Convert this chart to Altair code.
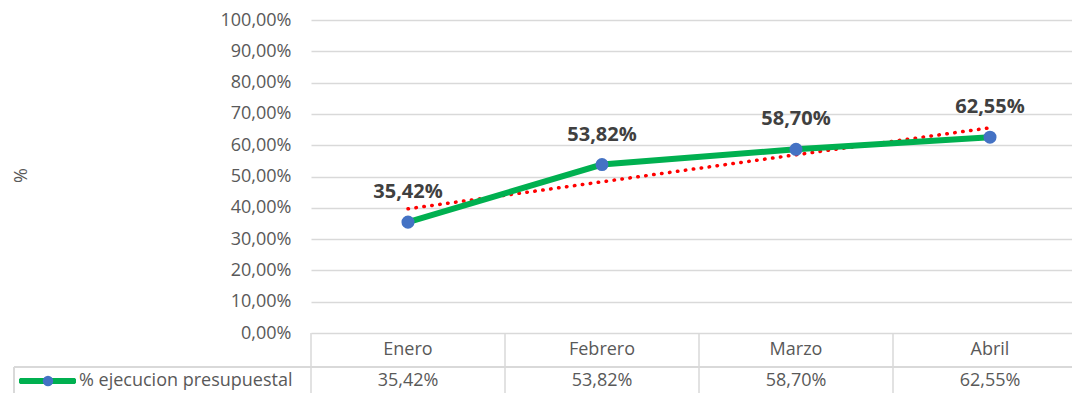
import altair as alt
import pandas as pd

months = ["Enero", "Febrero", "Marzo", "Abril"]
values = [35.42, 53.82, 58.70, 62.55]
series_name = "% ejecucion presupuestal"
y_ticks = [0, 10, 20, 30, 40, 50, 60, 70, 80, 90, 100]

df = pd.DataFrame({"month": months, "value": values})

FONT = "Open Sans"
GRID = "#d9d9d9"
TXT = "#595959"
W, H = 761, 313
X_MAX = 0.5 + W / 194.0  # band of 194 px per month; last band runs past the page edge

label_expr = "replace(format(datum.value, '.2f'), '.', ',') + '%'"

xscale = alt.Scale(domain=[0.5, X_MAX], nice=False, zero=False)
xenc = alt.X("idx:Q", scale=xscale, axis=None)
yenc = alt.Y(
    "value:Q",
    scale=alt.Scale(domain=[0, 100], nice=False),
    axis=alt.Axis(
        values=y_ticks, labelExpr=label_expr, labelFont=FONT, labelFontSize=18,
        labelColor=TXT, labelPadding=20, domain=False, ticks=False,
        grid=True, gridColor=GRID, gridWidth=1.5,
        title="%", titleFont=FONT, titleFontSize=18, titleColor=TXT,
        titleFontWeight="normal", titleX=-290, titleY=155, titleAngle=270,
        titleAlign="center", titleBaseline="middle",
    ),
)

base = (
    alt.Chart(df)
    .transform_window(idx="row_number()")
    .transform_calculate(label=label_expr, left="datum.idx - 0.5")
)

trend = (
    alt.Chart(df)
    .transform_window(idx="row_number()")
    .transform_regression("idx", "value", method="linear")
    .mark_line(color="#ff0000", strokeWidth=3.5, strokeDash=[0.5, 7.5], strokeCap="round")
    .encode(x=xenc, y=yenc)
)

line = base.mark_line(color="#00b050", strokeWidth=6).encode(x=xenc, y=yenc)
pts = base.mark_circle(color="#4472c4", opacity=1, size=170).encode(x=xenc, y=yenc)
labels = base.mark_text(
    font=FONT, fontSize=20, fontWeight="bold", color="#404040", dy=-20, baseline="bottom"
).encode(x=xenc, y=yenc, text="label:N")

# data table below the plot
row1 = base.mark_text(font=FONT, fontSize=18, color=TXT, baseline="middle").encode(
    x=xenc, y=alt.value(H + 17), text="month:N"
)
row2 = base.mark_text(font=FONT, fontSize=18, color=TXT, baseline="middle").encode(
    x=xenc, y=alt.value(H + 48), text="label:N"
)
vlines = base.mark_rule(color=GRID, strokeWidth=1.5).encode(
    x=alt.X("left:Q", scale=xscale, axis=None),
    y=alt.value(H), y2=alt.value(H + 75),
)
hline = alt.Chart(df).mark_rule(color=GRID, strokeWidth=1.5).encode(
    x=alt.value(-297), x2=alt.value(W), y=alt.value(H + 34)
)
vleft = alt.Chart(df).mark_rule(color=GRID, strokeWidth=1.5).encode(
    x=alt.value(-297), y=alt.value(H + 34), y2=alt.value(H + 75)
)
leg_line = alt.Chart(df).mark_rule(color="#00b050", strokeWidth=6, strokeCap="round").encode(
    x=alt.value(-289), x2=alt.value(-238), y=alt.value(H + 48)
)
leg_pt = alt.Chart(pd.DataFrame({"s": [series_name]})).mark_circle(
    color="#4472c4", opacity=1, size=110
).encode(x=alt.value(-263), y=alt.value(H + 48))
leg_txt = alt.Chart(pd.DataFrame({"s": [series_name]})).mark_text(
    font=FONT, fontSize=18, color=TXT, align="left", baseline="middle"
).encode(x=alt.value(-232), y=alt.value(H + 48), text="s:N")

chart = (
    alt.layer(vlines, hline, vleft, trend, line, pts, labels, row1, row2,
              leg_line, leg_pt, leg_txt)
    .properties(
        width=W, height=H,
        autosize=alt.AutoSizeParams(type="none"),
        padding={"left": 303, "top": 12, "right": 0, "bottom": 60},
    )
    .configure_view(stroke=None)
)

chart.save("out.html", embed_options={"renderer": "svg", "actions": False})
